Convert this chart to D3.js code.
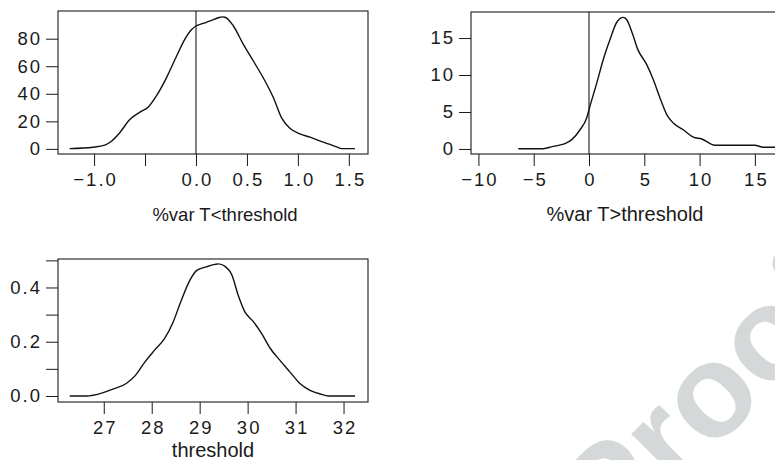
<!DOCTYPE html>
<html>
<head>
<meta charset="utf-8">
<script src="https://cdn.jsdelivr.net/npm/d3@7"></script>
<style>
	body { margin: 0; background: #fff; }
	svg text { font-family: "Liberation Sans", Arial, Helvetica, sans-serif; fill: #1a1a1a; }
	.tick text { font-size: 18.5px; letter-spacing: 2px; }
	.tick line { stroke: #1a1a1a; }
</style>
</head>
<body>
<div id="chart-area"></div>
<script>

// density of %var T<threshold
let belowVals = [-1.24, -1.01, -0.895, -0.83, -0.75, -0.65, -0.55, -0.47, -0.39, -0.29, -0.19, -0.11, -0.04, 0.0, 0.07, 0.14, 0.22, 0.26, 0.285, 0.367, 0.465, 0.563, 0.66, 0.76, 0.84, 0.924, 1.02, 1.12, 1.25, 1.38, 1.43, 1.56]
let belowDens = [0.2, 1.2, 2.7, 5.6, 11.6, 21.3, 26.7, 30.3, 38.3, 51.6, 67.4, 79.5, 86.8, 89.2, 91.1, 92.9, 95.2, 95.8, 95.6, 89.2, 75.9, 63.8, 51.6, 37.1, 22.5, 14.8, 10.9, 8.5, 4.9, 1.5, 0.2, 0.2]

// density of %var T>threshold
let aboveVals = [-6.39, -4.13, -3.23, -2.17, -1.56, -0.81, -0.21, 0.09, 0.70, 1.29, 1.9, 2.5, 3.1, 3.4, 3.86, 4.4, 5.22, 5.81, 6.42, 7.03, 7.62, 8.53, 9.43, 10.19, 11.39, 15.0, 15.76, 16.9]
let aboveDens = [0.04, 0.04, 0.36, 0.72, 1.26, 2.6, 4.2, 5.8, 8.9, 12.1, 14.8, 17.1, 17.8, 17.5, 15.9, 13.5, 11.4, 9.4, 6.9, 4.65, 3.5, 2.6, 1.6, 1.35, 0.5, 0.5, 0.23, 0.23]

// density of threshold
let thrVals = [26.29, 26.64, 26.99, 27.19, 27.47, 27.65, 27.86, 28.06, 28.27, 28.45, 28.62, 28.8, 28.94, 29.14, 29.32, 29.39, 29.53, 29.67, 29.8, 29.94, 30.12, 30.29, 30.47, 30.67, 30.88, 31.09, 31.3, 31.54, 31.68, 32.24]
let thrDens = [0, 0, 0.0126, 0.025, 0.046, 0.074, 0.126, 0.169, 0.212, 0.274, 0.354, 0.428, 0.463, 0.476, 0.485, 0.487, 0.478, 0.447, 0.373, 0.311, 0.274, 0.231, 0.176, 0.132, 0.089, 0.046, 0.021, 0.006, 0, 0]

// ticks and their labels (blank = tick drawn, label dropped)
let belowXTicks = [-1, -0.5, 0, 0.5, 1, 1.5]
let belowXLabels = ["\u22121.0", "", "0.0", "0.5", "1.0", "1.5"]
let belowYTicks = [0, 20, 40, 60, 80]
let belowYLabels = ["0", "20", "40", "60", "80"]

let aboveXTicks = [-10, -5, 0, 5, 10, 15]
let aboveXLabels = ["\u221210", "\u22125", "0", "5", "10", "15"]
let aboveYTicks = [0, 5, 10, 15]
let aboveYLabels = ["0", "5", "10", "15"]

let thrXTicks = [27, 28, 29, 30, 31, 32]
let thrXLabels = ["27", "28", "29", "30", "31", "32"]
let thrYTicks = [0, 0.1, 0.2, 0.3, 0.4, 0.5]
let thrYLabels = ["0.0", "", "0.2", "", "0.4", ""]

let titles = ["%var T<threshold", "%var T>threshold", "threshold"]

let width = 775,
	height = 460;

let svg = d3.select("#chart-area").append("svg")
	.attr("width", width)
	.attr("height", height)

// watermark behind the panels
svg.append("text")
	.attr("transform", "translate(612,552) rotate(-45)")
	.style("font-size", "132px")
	.style("font-weight", "bold")
	.style("fill", "#d5d8d8")
	.text("Proofs")

// panel boxes in pixels, plus the data extent each box spans
let panels = [
	{x: belowVals, y: belowDens, xt: belowXTicks, xl: belowXLabels, yt: belowYTicks, yl: belowYLabels,
		box: [58, 11, 368, 154], xdom: [-1.354, 1.688], ydom: [-3.7, 100.1], vline: true,
		title: titles[0], tx: 225, ty: 221, ts: 18.5},
	{x: aboveVals, y: aboveDens, xt: aboveXTicks, xl: aboveXLabels, yt: aboveYTicks, yl: aboveYLabels,
		box: [471, 12, 800, 154], xdom: [-10.67, 19.08], ydom: [-0.68, 18.52], vline: true,
		title: titles[1], tx: 625, ty: 221, ts: 20},
	{x: thrVals, y: thrDens, xt: thrXTicks, xl: thrXLabels, yt: thrYTicks, yl: thrYLabels,
		box: [58, 259, 368, 402], xdom: [26.046, 32.51], ydom: [-0.0222, 0.505], vline: false,
		title: titles[2], tx: 213, ty: 457, ts: 20}
]

panels.forEach(drawPanel)

function drawPanel(p){

	let [x0, y0, x1, y1] = p.box

	let xScale = d3.scaleLinear()
		.domain(p.xdom)
		.range([x0, x1])

	let yScale = d3.scaleLinear()
		.domain(p.ydom)
		.range([y1, y0])

	let xAxis = d3.axisBottom(xScale)
		.tickValues(p.xt)
		.tickFormat((d, i) => p.xl[i])
		.tickSize(12)
		.tickPadding(7)

	let yAxis = d3.axisLeft(yScale)
		.tickValues(p.yt)
		.tickFormat((d, i) => p.yl[i])
		.tickSize(12)
		.tickPadding(4)

	svg.append("g")
		.attr("class", "axis x-axis")
		.attr("transform", "translate(0," + y1 + ")")
		.call(xAxis)
		.call(g => g.select(".domain").remove())
		.call(g => g.selectAll(".tick text").attr("dx", 1))

	svg.append("g")
		.attr("class", "axis y-axis")
		.attr("transform", "translate(" + x0 + ",0)")
		.call(yAxis)
		.call(g => g.select(".domain").remove())

	svg.append("rect")
		.attr("x", x0)
		.attr("y", y0)
		.attr("width", x1 - x0)
		.attr("height", y1 - y0)
		.attr("fill", "none")
		.attr("stroke", "#1a1a1a")
		.attr("stroke-width", 1.1)

	if (p.vline) {
		svg.append("line")
			.attr("x1", xScale(0))
			.attr("x2", xScale(0))
			.attr("y1", y0)
			.attr("y2", y1)
			.attr("stroke", "#1a1a1a")
			.attr("stroke-width", 1.1)
	}

	let line = d3.line()
		.x(d => xScale(d[0]))
		.y(d => yScale(d[1]))
		.curve(d3.curveMonotoneX)

	svg.append("path")
		.datum(d3.zip(p.x, p.y))
		.attr("d", line)
		.attr("fill", "none")
		.attr("stroke", "#111")
		.attr("stroke-width", 1.4)

	svg.append("text")
		.attr("x", p.tx)
		.attr("y", p.ty)
		.attr("text-anchor", "middle")
		.style("font-size", p.ts + "px")
		.text(p.title)
}

</script>
</body>
</html>
